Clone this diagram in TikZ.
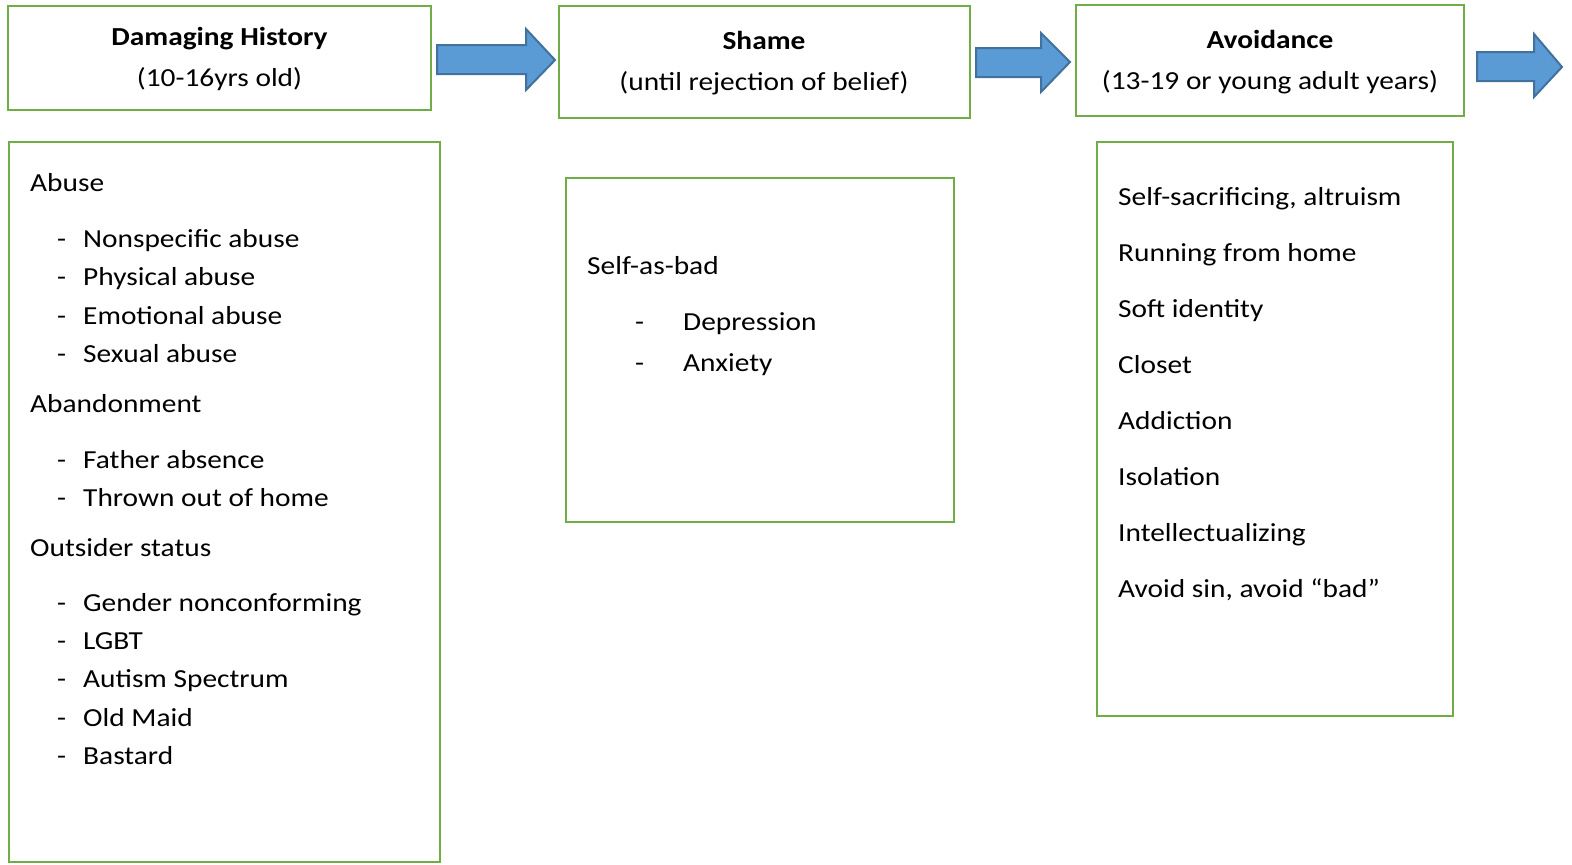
\documentclass[tikz,border=0pt]{standalone}
\usepackage{fontspec}
\setmainfont{Carlito}
\definecolor{boxgreen}{HTML}{70AD47}
\definecolor{arrfill}{HTML}{5B9BD5}
\definecolor{arrline}{HTML}{41719C}
\newcommand{\wid}[1]{\scalebox{1.13}[1]{#1}}
\begin{document}
\begin{tikzpicture}[x=1pt,y=-1pt,
  gbox/.style={draw=boxgreen,line width=2.5pt},
  barrow/.style={fill=arrfill,draw=arrline,line width=2pt,line join=miter},
  txt/.style={anchor=base west,inner sep=0pt,font=\fontsize{26}{30}\selectfont},
  htxt/.style={anchor=base,inner sep=0pt,font=\fontsize{26}{30}\selectfont},
  dashm/.style={anchor=base west,inner sep=0pt,font=\fontsize{26}{30}\selectfont}]
\useasboundingbox (0,0) rectangle (1572,865);
% header boxes
\draw[gbox] (8,6) rectangle (431,110);
\node[htxt] (h1a) at (219.5,45) {\wid{\bfseries Damaging History}};
\node[htxt] (h1b) at (219.5,86) {\wid{(10-16yrs old)}};
\draw[gbox] (559,6) rectangle (970,118);
\node[htxt] (h2a) at (764,49) {\wid{\bfseries Shame}};
\node[htxt] (h2b) at (764,90) {\wid{(until rejection of belief)}};
\draw[gbox] (1076,5) rectangle (1464,116);
\node[htxt] (h3a) at (1270,48) {\wid{\bfseries Avoidance}};
\node[htxt] (h3b) at (1270,89) {\wid{(13-19 or young adult years)}};
% arrows
\draw[barrow] (437,45) -- (526,45) -- (526,29) -- (555,60) -- (526,90) -- (526,74) -- (437,74) -- cycle;
\draw[barrow] (976,48) -- (1041,48) -- (1041,33) -- (1070,62) -- (1041,92) -- (1041,77) -- (976,77) -- cycle;
\draw[barrow] (1477,52) -- (1534,52) -- (1534,34) -- (1562,67) -- (1534,97) -- (1534,81) -- (1477,81) -- cycle;
% left list box
\draw[gbox] (9,142) rectangle (440,862);
\node[txt] (l1) at (30,191) {\wid{Abuse}};
\foreach \yy/\tt [count=\i] in {247/Nonspecific abuse,285/Physical abuse,324/Emotional abuse,362/Sexual abuse,
  468/Father absence,506/Thrown out of home,
  611/Gender nonconforming,649/LGBT,687/Autism Spectrum,726/Old Maid,764/Bastard}{
  \node[dashm] (ld\i) at (57,\yy) {\wid{-}};
  \node[txt] (li\i) at (83,\yy) {\wid{\tt}};
}
\node[txt] (l2) at (30,412) {\wid{Abandonment}};
\node[txt] (l3) at (30,556) {\wid{Outsider status}};
% middle box
\draw[gbox] (566,178) rectangle (954,522);
\node[txt] (m1) at (587,274) {\wid{Self-as-bad}};
\node[dashm] (md1) at (635,330) {\wid{-}};
\node[txt] (mi1) at (683,330) {\wid{Depression}};
\node[dashm] (md2) at (635,371) {\wid{-}};
\node[txt] (mi2) at (683,371) {\wid{Anxiety}};
% right box
\draw[gbox] (1097,142) rectangle (1453,716);
\foreach \yy/\tt [count=\i] in {205/{Self-sacrificing, altruism},261/Running from home,317/Soft identity,373/Closet,
  429/Addiction,485/Isolation,541/Intellectualizing,597/{Avoid sin, avoid “bad”}}{
  \node[txt] (r\i) at (1118,\yy) {\wid{\tt}};
}
\end{tikzpicture}
\end{document}
